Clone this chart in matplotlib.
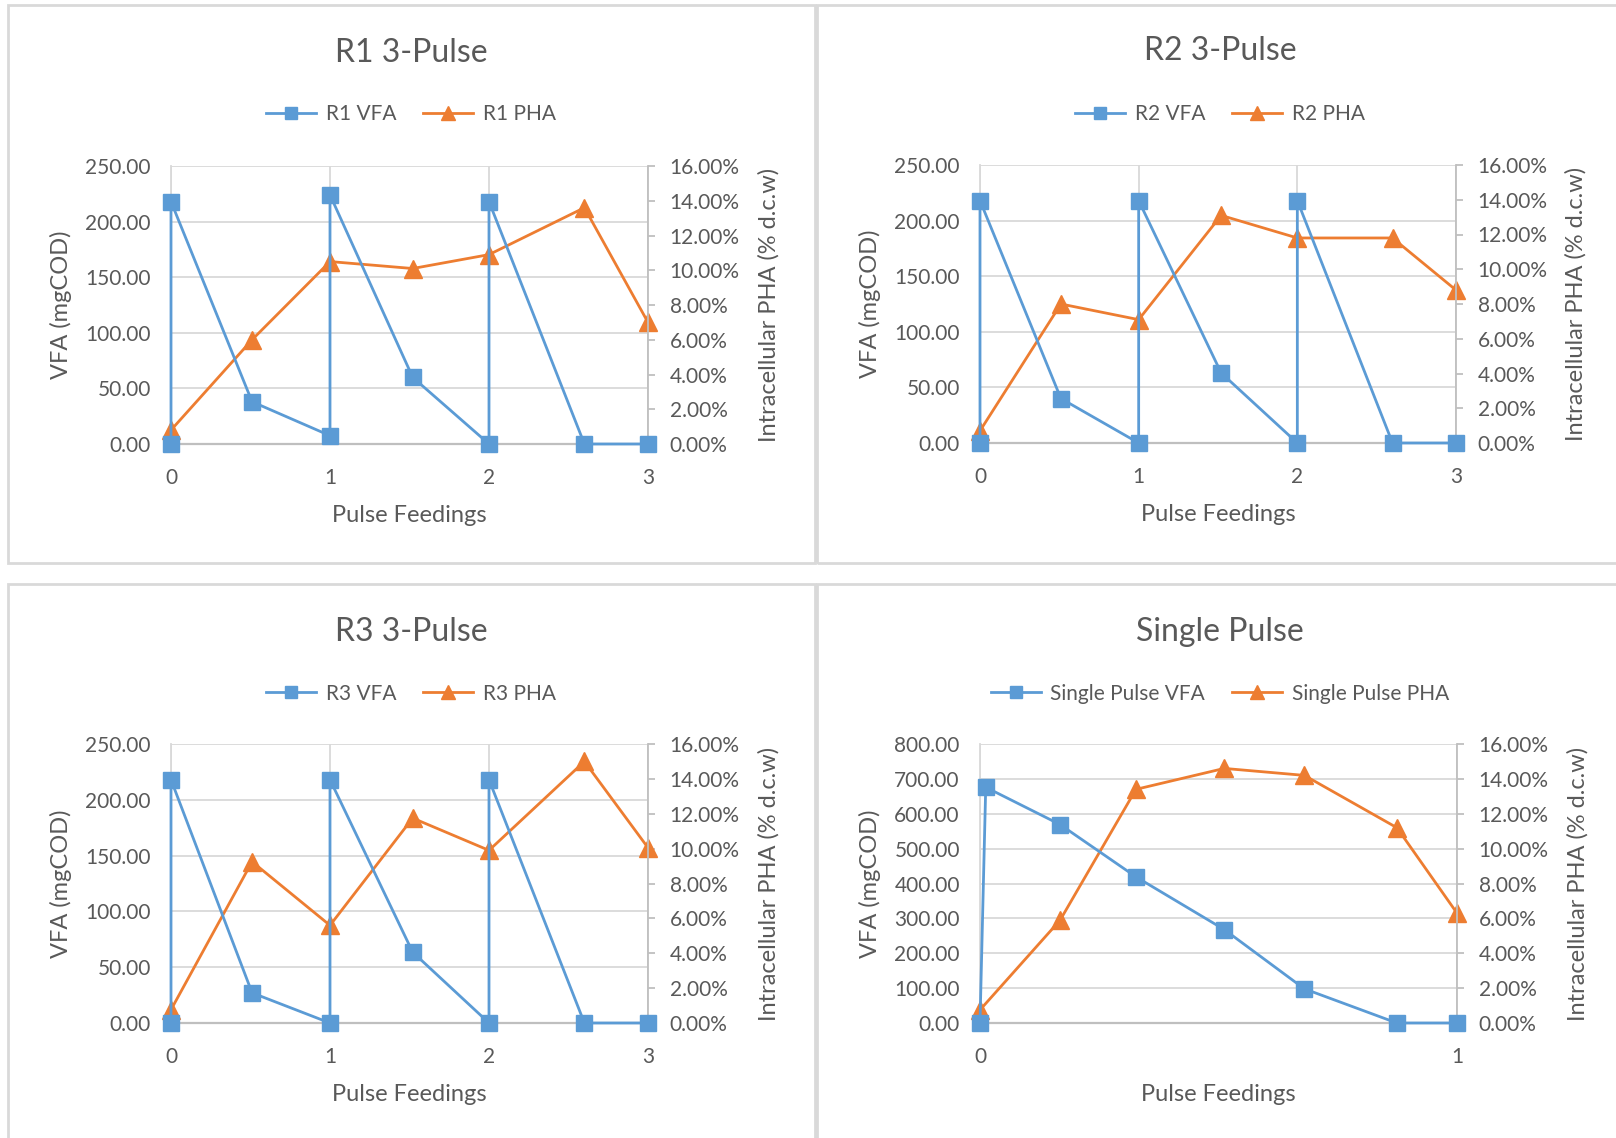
import matplotlib
matplotlib.use("Agg")
import matplotlib.pyplot as plt
from matplotlib.patches import Rectangle
from matplotlib.ticker import FuncFormatter, MultipleLocator

plt.rcParams['font.family'] = ['Lato', 'DejaVu Sans']

# VFA (mgCOD) and intracellular PHA (% d.c.w) over the pulse feedings
r1_vfa_x = [0, 0, 0.51, 1, 1, 1.52, 2, 2, 2.6, 3]
r1_vfa = [0, 218, 38, 7.5, 224, 60, 0, 218, 0, 0]
r1_pha_x = [0, 0.51, 1, 1.52, 2, 2.6, 3]
r1_pha = [0.8, 6.0, 10.5, 10.1, 10.9, 13.6, 7.0]

r2_vfa_x = [0, 0, 0.51, 1, 1, 1.52, 2, 2, 2.6, 3]
r2_vfa = [0, 218, 40, 0, 218, 63, 0, 218, 0, 0]
r2_pha_x = [0, 0.51, 1, 1.52, 2, 2.6, 3]
r2_pha = [0.7, 8.0, 7.1, 13.1, 11.8, 11.8, 8.8]

r3_vfa_x = [0, 0, 0.51, 1, 1, 1.52, 2, 2, 2.6, 3]
r3_vfa = [0, 218, 27, 0, 218, 63.5, 0, 218, 0, 0]
r3_pha_x = [0, 0.51, 1, 1.52, 2, 2.6, 3]
r3_pha = [0.76, 9.25, 5.6, 11.75, 9.9, 15.0, 10.05]

sp_vfa_x = [0, 0.012, 0.168, 0.327, 0.512, 0.68, 0.874, 1.0]
sp_vfa = [0, 676, 569, 419, 268, 98, 0, 0]
sp_pha_x = [0, 0.168, 0.327, 0.512, 0.68, 0.874, 1.0]
sp_pha = [0.75, 5.9, 13.4, 14.6, 14.2, 11.2, 6.3]

BLUE = '#5B9BD5'
ORANGE = '#ED7D31'
TEXT = '#595959'
GRID = '#d9d9d9'
AXIS = '#bfbfbf'

W, H = 1616, 1138
fig = plt.figure(figsize=(W / 100, H / 100), dpi=100)
fig.patch.set_facecolor('white')


def px_rect(x0, top, x1, bottom):
    return [x0 / W, 1 - bottom / H, (x1 - x0) / W, (bottom - top) / H]


# chart frames
for x0, top, x1, bottom in [(8, 5, 815, 563), (817, 5, 1632, 563),
                            (8, 584, 815, 1150), (817, 584, 1632, 1150)]:
    r = px_rect(x0, top, x1, bottom)
    fig.add_artist(Rectangle((r[0], r[1]), r[2], r[3], transform=fig.transFigure,
                             fill=False, ec=GRID, lw=2.0))


def draw_panel(rect, title, cx, title_y, legend_y, names,
               vfa_x, vfa, pha_x, pha, vfa_max, vfa_step, x_max):
    ax = fig.add_axes(px_rect(*rect))
    ax2 = ax.twinx()
    ax3 = ax.twinx()

    ax.set_xlim(0, x_max)
    ax.set_ylim(0, vfa_max)
    ax3.set_ylim(0, vfa_max)
    ax2.set_ylim(0, 16)

    ax.xaxis.set_major_locator(MultipleLocator(1))
    ax.yaxis.set_major_locator(MultipleLocator(vfa_step))
    ax2.yaxis.set_major_locator(MultipleLocator(2))
    ax.yaxis.set_major_formatter(FuncFormatter(lambda v, _: f'{v:.2f}'))
    ax2.yaxis.set_major_formatter(FuncFormatter(lambda v, _: f'{v:.2f}%'))

    ax.grid(True, color=GRID, lw=1.3)
    ax.set_axisbelow(True)
    for s in ['top', 'right']:
        ax.spines[s].set_visible(False)
    ax.spines['left'].set_color(GRID)
    ax.spines['left'].set_linewidth(1.3)
    ax.spines['bottom'].set_color(AXIS)
    ax.spines['bottom'].set_linewidth(1.6)
    for s in ['top', 'left', 'bottom']:
        ax2.spines[s].set_visible(False)
    ax2.spines['right'].set_color(AXIS)
    ax2.spines['right'].set_linewidth(1.3)

    ax.tick_params(axis='y', length=0, pad=14.5, labelsize=15, labelcolor=TEXT)
    ax.tick_params(axis='x', length=0, pad=17, labelsize=15, labelcolor=TEXT)
    ax2.tick_params(axis='y', length=5, width=1.3, color=AXIS, pad=10.5,
                    labelsize=15, labelcolor=TEXT)

    # VFA sits on its own twin so it draws above the PHA line
    ax2.plot(pha_x, pha, color=ORANGE, lw=2.0, marker='^', ms=13,
             mec=ORANGE, label=names[1], clip_on=False)
    ax3.plot(vfa_x, vfa, color=BLUE, lw=2.0, marker='s', ms=12,
             mec=BLUE, label=names[0], clip_on=False)
    ax3.set_axis_off()

    ax.set_ylabel('VFA (mgCOD)', fontsize=17, color=TEXT)
    ax.yaxis.set_label_coords(-0.207, 0.5)
    ax2.set_ylabel('Intracellular PHA (% d.c.w)', fontsize=17, color=TEXT)
    ax2.yaxis.set_label_coords(1.230, 0.5)
    ax.set_xlabel('Pulse Feedings', fontsize=17, color=TEXT)
    ax.xaxis.set_label_coords(0.5, -0.219)

    fig.text(cx / W, 1 - title_y / H, title, ha='center', va='center',
             fontsize=23, color=TEXT)

    handles = ax3.get_lines() + ax2.get_lines()
    ax3.legend(handles, [h.get_label() for h in handles], loc='center',
               bbox_to_anchor=(cx / W, 1 - legend_y / H),
               bbox_transform=fig.transFigure, ncol=2, frameon=False,
               fontsize=15, labelcolor=TEXT, handlelength=2.4,
               handletextpad=0.45, columnspacing=1.3, markerscale=0.75)


draw_panel((171, 166, 648, 444), 'R1 3-Pulse', 411, 52.5, 114.5,
           ['R1 VFA', 'R1 PHA'], r1_vfa_x, r1_vfa, r1_pha_x, r1_pha, 250, 50, 3)
draw_panel((980, 165, 1456, 443), 'R2 3-Pulse', 1220, 51.5, 114.5,
           ['R2 VFA', 'R2 PHA'], r2_vfa_x, r2_vfa, r2_pha_x, r2_pha, 250, 50, 3)
draw_panel((171, 744, 648, 1023), 'R3 3-Pulse', 411, 632, 693.5,
           ['R3 VFA', 'R3 PHA'], r3_vfa_x, r3_vfa, r3_pha_x, r3_pha, 250, 50, 3)
draw_panel((980, 744, 1457, 1023), 'Single Pulse', 1220, 632, 693.5,
           ['Single Pulse VFA', 'Single Pulse PHA'], sp_vfa_x, sp_vfa,
           sp_pha_x, sp_pha, 800, 100, 1)

fig.savefig('out.png', dpi=100)
